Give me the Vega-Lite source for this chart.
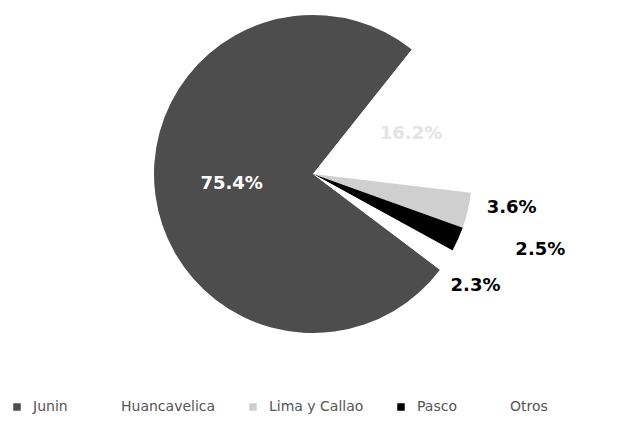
{
  "$schema": "https://vega.github.io/schema/vega-lite/v6.json",
  "width": 626,
  "height": 348,
  "padding": 0,
  "background": "white",
  "view": {"stroke": null},
  "data": {
    "values": [
      {"region": "Junin", "value": 75.4, "order": 1, "label": "75.4%"},
      {"region": "Huancavelica", "value": 16.2, "order": 2, "label": "16.2%"},
      {"region": "Lima y Callao", "value": 3.6, "order": 3, "label": "3.6%"},
      {"region": "Pasco", "value": 2.5, "order": 4, "label": "2.5%"},
      {"region": "Otros", "value": 2.3, "order": 5, "label": "2.3%"}
    ]
  },
  "encoding": {
    "theta": {"field": "value", "type": "quantitative", "stack": true, "scale": {"range": [2.2166, 8.4998]}},
    "order": {"field": "order", "type": "quantitative"}
  },
  "layer": [
    {
      "mark": {"type": "arc", "radius": 159},
      "encoding": {
        "color": {
          "field": "region",
          "type": "nominal",
          "scale": {
            "domain": ["Junin", "Huancavelica", "Lima y Callao", "Pasco", "Otros"],
            "range": ["#4d4d4d", "#ffffff", "#cfcfcf", "#000000", "#ffffff"]
          },
          "legend": {
            "orient": "none",
            "legendX": 10,
            "legendY": 400,
            "direction": "horizontal",
            "title": null,
            "symbolType": "square",
            "symbolSize": 56,
            "symbolStrokeWidth": 0,
            "labelFont": "DejaVu Sans",
            "labelFontSize": 14,
            "labelColor": "#555555",
            "labelOffset": 9,
            "columnPadding": 30,
            "labelLimit": 200
          }
        }
      }
    },
    {
      "mark": {"type": "text", "radius": 82, "font": "DejaVu Sans", "fontWeight": "bold", "fontSize": 18, "color": "white", "align": "center", "baseline": "middle"},
      "encoding": {"text": {"condition": {"test": "datum.region === 'Junin'", "field": "label"}, "value": ""}}
    },
    {
      "mark": {"type": "text", "radius": 106, "font": "DejaVu Sans", "fontWeight": "bold", "fontSize": 18, "color": "#e4e4e4", "align": "center", "baseline": "middle"},
      "encoding": {"text": {"condition": {"test": "datum.region === 'Huancavelica'", "field": "label"}, "value": ""}}
    },
    {
      "mark": {"type": "text", "radius": 200, "dx": 4, "dy": -12, "font": "DejaVu Sans", "fontWeight": "bold", "fontSize": 18, "color": "black", "align": "center", "baseline": "middle"},
      "encoding": {"text": {"condition": {"test": "datum.region === 'Lima y Callao'", "field": "label"}, "value": ""}}
    },
    {
      "mark": {"type": "text", "radius": 235, "dx": 13, "dy": -20, "font": "DejaVu Sans", "fontWeight": "bold", "fontSize": 18, "color": "black", "align": "center", "baseline": "middle"},
      "encoding": {"text": {"condition": {"test": "datum.region === 'Pasco'", "field": "label"}, "value": ""}}
    },
    {
      "mark": {"type": "text", "radius": 197, "dx": -3, "dy": 5, "font": "DejaVu Sans", "fontWeight": "bold", "fontSize": 18, "color": "black", "align": "center", "baseline": "middle"},
      "encoding": {"text": {"condition": {"test": "datum.region === 'Otros'", "field": "label"}, "value": ""}}
    }
  ]
}
